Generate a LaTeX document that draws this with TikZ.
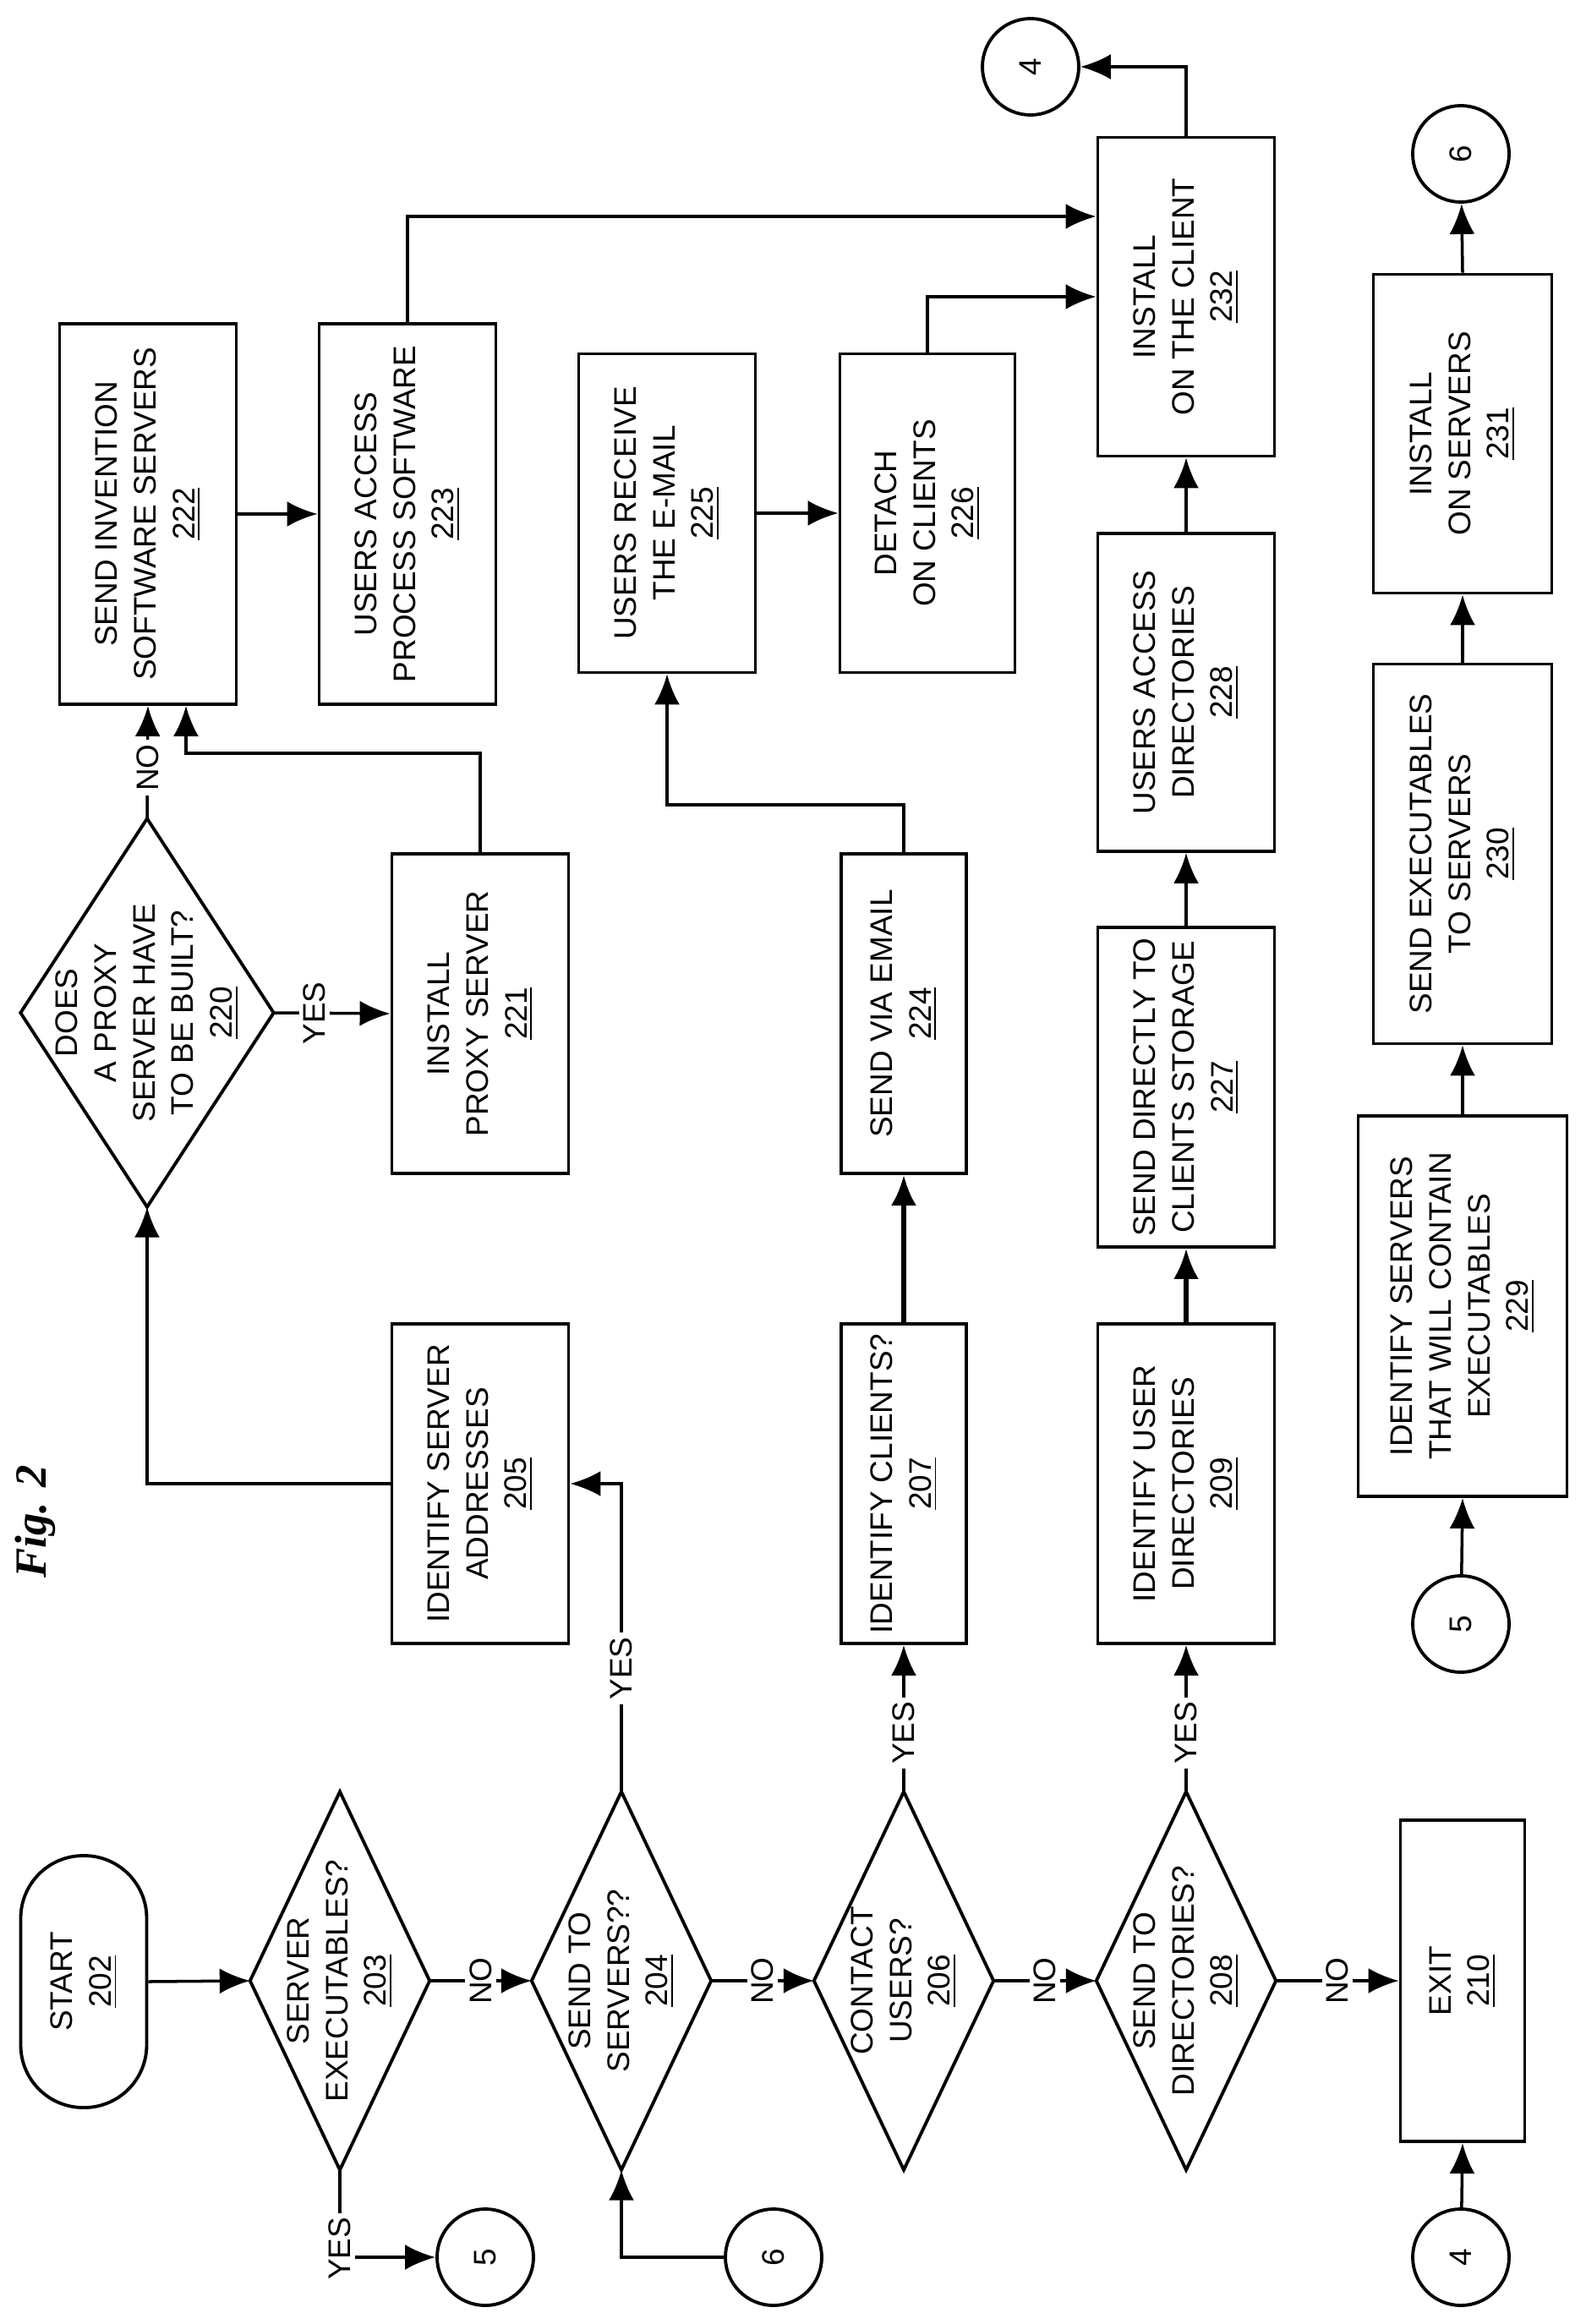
\documentclass[tikz,border=0pt]{standalone}
\usepackage{fontspec}
\setmainfont{Liberation Sans}
\newfontfamily\figfont{Liberation Serif}
\usetikzlibrary{arrows.meta,calc,positioning}
\tikzset{
    boxsty/.style={draw,line width=1.1pt,rectangle,rotate=90,align=center,inner sep=2pt,
        font=\fontsize{10.5}{13}\selectfont},
    diasty/.style={rectangle,rotate=90,align=center,inner sep=0pt,minimum width=4.46cm,minimum height=2.11cm,
        font=\fontsize{10.5}{13}\selectfont},
    termsty/.style={boxsty,rounded corners=0.74cm,minimum width=2.98cm,minimum height=1.49cm},
    consty/.style={draw,circle,line width=1.1pt,minimum size=1.14cm,inner sep=0pt,rotate=90,
        font=\fontsize{10.5}{13}\selectfont},
    flowsty/.style={line width=1pt,-{Latex[length=3.6mm,width=3mm]}},
    thicksty/.style={flowsty,line width=1.6pt},
    lblsty/.style={fill=white,rotate=90,inner sep=1.5pt,font=\fontsize{10.5}{13}\selectfont},
    bx/.style 2 args={minimum width=#1cm,minimum height=#2cm},
}

\begin{document}
\begin{tikzpicture}
\useasboundingbox (0,0) rectangle (18.75,-27.49);
% first column: decisions
\node[termsty] (s202) at (0.99,-23.44) {START\\\underline{202}};
\node[diasty] (d203) at (4.02,-23.43) {SERVER\\EXECUTABLES?\\\underline{203}};
\node[diasty] (d204) at (7.35,-23.43) {SEND TO\\SERVERS??\\\underline{204}};
\node[diasty] (d206) at (10.69,-23.43) {CONTACT\\USERS?\\\underline{206}};
\node[diasty] (d208) at (14.03,-23.43) {SEND TO\\DIRECTORIES?\\\underline{208}};
\node[boxsty,bx={3.80}{1.47}] (b210) at (17.30,-23.43) {EXIT\\\underline{210}};
\node[consty] (c5a) at (5.74,-26.70) {5};
\node[consty] (c6a) at (9.15,-26.70) {6};
\node[consty] (c4a) at (17.28,-26.70) {4};
% second column
\node[boxsty,bx={3.78}{2.09}] (b205) at (5.68,-17.55) {IDENTIFY SERVER\\ADDRESSES\\\underline{205}};
\node[boxsty,bx={3.78}{1.48}] (b207) at (10.69,-17.55) {IDENTIFY CLIENTS?\\\underline{207}};
\node[boxsty,bx={3.78}{2.09}] (b209) at (14.03,-17.55) {IDENTIFY USER\\DIRECTORIES\\\underline{209}};
\node[boxsty,bx={4.50}{2.47}] (b229) at (17.30,-15.45) {IDENTIFY SERVERS\\THAT WILL CONTAIN\\EXECUTABLES\\\underline{229}};
\node[consty] (c5b) at (17.28,-19.21) {5};
% third column
\node[diasty,bx={4.58}{2.98}] (d220) at (1.74,-11.98) {DOES\\A PROXY\\SERVER HAVE\\TO BE BUILT?\\\underline{220}};
\node[boxsty,bx={3.78}{2.09}] (b221) at (5.68,-11.99) {INSTALL\\PROXY SERVER\\\underline{221}};
\node[boxsty,bx={3.78}{1.48}] (b224) at (10.69,-11.99) {SEND VIA EMAIL\\\underline{224}};
\node[boxsty,bx={3.78}{2.09}] (b227) at (14.03,-12.86) {SEND DIRECTLY TO\\CLIENTS STORAGE\\\underline{227}};
\node[boxsty,bx={4.49}{2.11}] (b230) at (17.30,-10.10) {SEND EXECUTABLES\\TO SERVERS\\\underline{230}};
% fourth column
\node[boxsty,bx={4.50}{2.09}] (b222) at (1.75,-6.08) {SEND INVENTION\\SOFTWARE SERVERS\\\underline{222}};
\node[boxsty,bx={4.50}{2.09}] (b223) at (4.82,-6.08) {USERS ACCESS\\PROCESS SOFTWARE\\\underline{223}};
\node[boxsty,bx={3.77}{2.09}] (b225) at (7.89,-6.07) {USERS RECEIVE\\THE E-MAIL\\\underline{225}};
\node[boxsty,bx={3.77}{2.07}] (b226) at (10.97,-6.07) {DETACH\\ON CLIENTS\\\underline{226}};
\node[boxsty,bx={3.76}{2.09}] (b228) at (14.03,-8.19) {USERS ACCESS\\DIRECTORIES\\\underline{228}};
\node[boxsty,bx={3.77}{2.09}] (b232) at (14.03,-3.51) {INSTALL\\ON THE CLIENT\\\underline{232}};
\node[boxsty,bx={3.77}{2.11}] (b231) at (17.30,-5.13) {INSTALL\\ON SERVERS\\\underline{231}};
\node[consty] (c6b) at (17.28,-1.82) {6};
\node[consty] (c4b) at (12.19,-0.79) {4};
\node[rotate=90,font=\figfont\fontsize{15}{17}\selectfont\bfseries\itshape] (fig) at (0.42,-18.00) {Fig. 2};

\foreach \d in {d203,d204,d206,d208,d220}
    \draw[line width=1.1pt] (\d.north) -- (\d.east) -- (\d.south) -- (\d.west) -- cycle;

% decisions chain
\draw[flowsty] (s202.south) -- (d203.north);
\draw[flowsty] (d203.south) -- node[lblsty] {NO} (d204.north);
\draw[flowsty] (d204.south) -- node[lblsty] {NO} (d206.north);
\draw[flowsty] (d206.south) -- node[lblsty] {NO} (d208.north);
\draw[flowsty] (d208.south) -- node[lblsty] {NO} (b210.north);
\draw[flowsty] (d203.west) |- node[lblsty,pos=0.45] {YES} (c5a);
\draw[flowsty] (c6a) -| (d204.west);
\draw[flowsty] (d204.east) |- node[lblsty,pos=0.2] {YES} (b205.south);
\draw[flowsty] (d206.east) -- node[lblsty,pos=0.4] {YES} (b207.west);
\draw[flowsty] (d208.east) -- node[lblsty,pos=0.4] {YES} (b209.west);
\draw[flowsty] (c4a) -- (b210.west);
% server branch
\draw[flowsty] (b205.north) -| (d220.west);
\draw[flowsty] (d220.south) -- node[lblsty,pos=0.35] {YES} (b221.north);
\draw[flowsty] (d220.east) -- node[lblsty,pos=0.45] {NO} (b222.west);
\draw[flowsty] (b221.east) -- ++(0,1.17) -| ([xshift=0.45cm]b222.west);
\draw[flowsty] (b222.south) -- (b223.north);
\draw[flowsty] (b223.east) |- ([yshift=0.95cm]b232.north);
% email branch
\draw[thicksty] (b207.east) -- (b224.west);
\draw[flowsty] (b224.east) -- ++(0,0.56) -| (b225.west);
\draw[flowsty] (b225.south) -- (b226.north);
\draw[flowsty] (b226.east) |- (b232.north);
% directory branch
\draw[thicksty] (b209.east) -- (b227.west);
\draw[flowsty] (b227.east) -- (b228.west);
\draw[flowsty] (b228.east) -- (b232.west);
\draw[flowsty] (b232.east) |- (c4b);
% executables branch
\draw[flowsty] (c5b) -- (b229.west);
\draw[flowsty] (b229.east) -- (b230.west);
\draw[flowsty] (b230.east) -- (b231.west);
\draw[flowsty] (b231.east) -- (c6b);
\end{tikzpicture}
\end{document}
